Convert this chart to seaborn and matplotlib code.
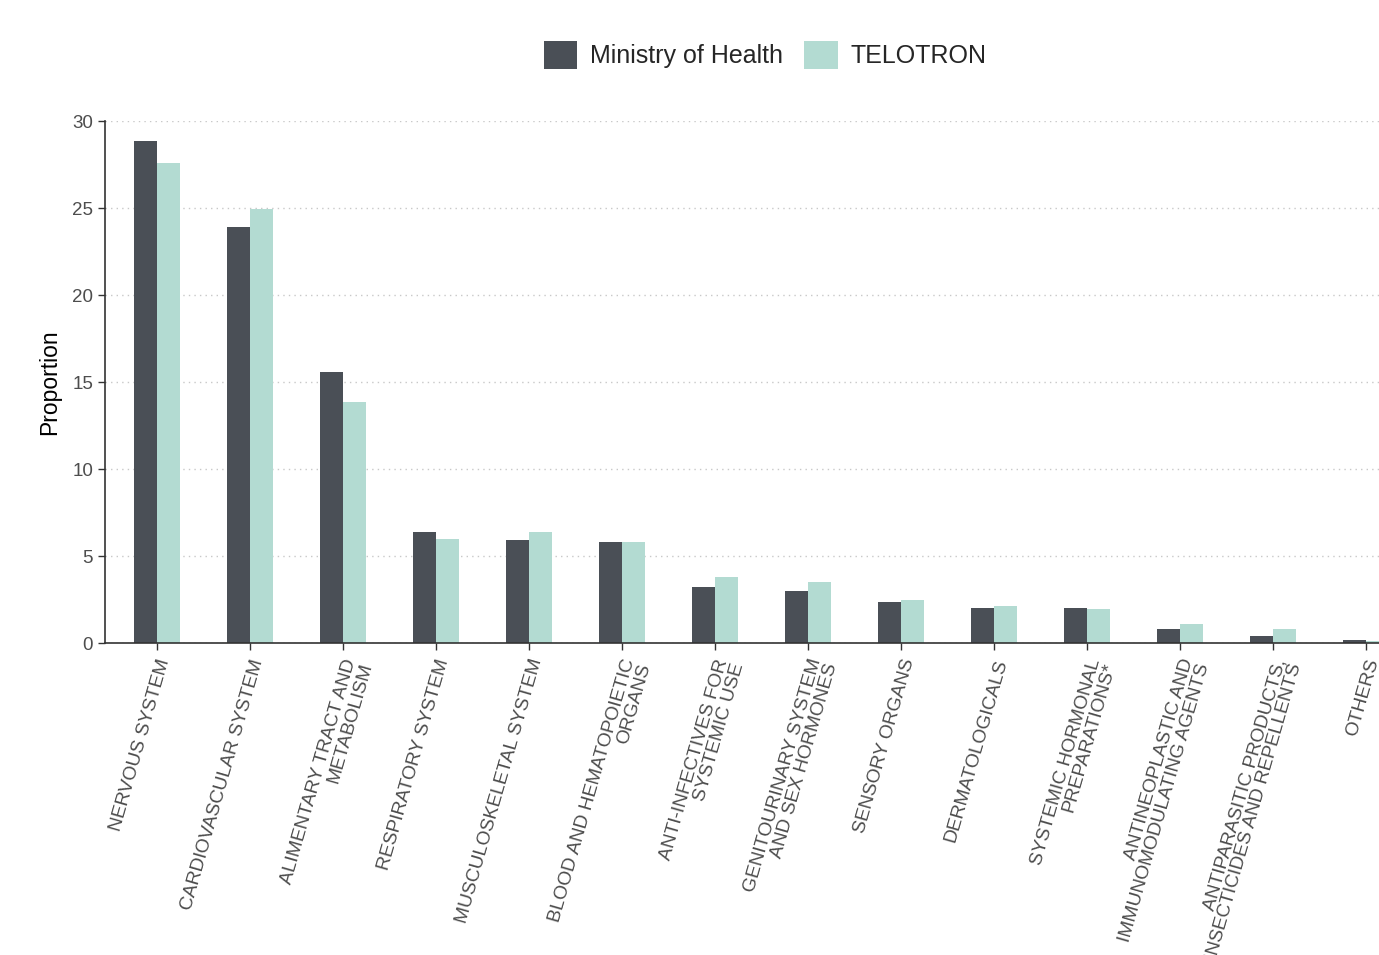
import matplotlib
matplotlib.use("Agg")
import matplotlib.pyplot as plt
import matplotlib.transforms as mtransforms
import seaborn as sns
import pandas as pd
from matplotlib.patches import Patch

categories = [
    "NERVOUS SYSTEM",
    "CARDIOVASCULAR SYSTEM",
    "ALIMENTARY TRACT AND\nMETABOLISM",
    "RESPIRATORY SYSTEM",
    "MUSCULOSKELETAL SYSTEM",
    "BLOOD AND HEMATOPOIETIC\nORGANS",
    "ANTI-INFECTIVES FOR\nSYSTEMIC USE",
    "GENITOURINARY SYSTEM\nAND SEX HORMONES",
    "SENSORY ORGANS",
    "DERMATOLOGICALS",
    "SYSTEMIC HORMONAL\nPREPARATIONS*",
    "ANTINEOPLASTIC AND\nIMMUNOMODULATING AGENTS",
    "ANTIPARASITIC PRODUCTS,\nINSECTICIDES AND REPELLENTS",
    "OTHERS",
]
ministry = [28.85, 23.9, 15.6, 6.4, 5.9, 5.8, 3.2, 3.0, 2.35, 2.0, 2.0, 0.79, 0.42, 0.15]
telotron = [27.6, 24.95, 13.85, 6.0, 6.4, 5.8, 3.8, 3.5, 2.45, 2.1, 1.93, 1.07, 0.79, 0.1]
series = ["Ministry of Health", "TELOTRON"]
colors = ["#4a4f56", "#b3dbd2"]
y_ticks = [0, 5, 10, 15, 20, 25, 30]

df = pd.DataFrame({
    "category": categories * 2,
    "value": ministry + telotron,
    "source": [series[0]] * len(categories) + [series[1]] * len(categories),
})

sns.set_style("white")
plt.rcParams["font.family"] = ["Liberation Sans", "DejaVu Sans"]

fig = plt.figure(figsize=(13.79, 9.55), dpi=100)
ax = fig.add_axes([105 / 1379, 1 - 643 / 955, 1313 / 1379, (643 - 121) / 955])

sns.barplot(data=df, x="category", y="value", hue="source", order=categories,
            hue_order=series, palette=colors, width=0.5, saturation=1,
            ax=ax, legend=False, errorbar=None, linewidth=0, edgecolor="none")

ax.set_ylim(0, 30)
ax.set_xlim(-0.56, len(categories) - 0.44)
ax.set_yticks(y_ticks)
ax.set_yticklabels([str(v) for v in y_ticks], fontsize=13.5, color="#4d4d4d")
ax.yaxis.grid(True, linestyle=(0, (1, 3)), color="#c8c8c8", linewidth=1)
ax.xaxis.grid(False)
ax.set_axisbelow(True)

ax.set_xticks(range(len(categories)))
ax.set_xticklabels(categories, rotation=74, ha="right", va="top",
                   rotation_mode="anchor", multialignment="right",
                   fontsize=13.8, color="#4d4d4d", linespacing=0.95)
offset = mtransforms.ScaledTranslation(5 / 100, 0, fig.dpi_scale_trans)
for lbl in ax.get_xticklabels():
    lbl.set_transform(lbl.get_transform() + offset)
ax.tick_params(axis="both", which="both", direction="out", length=5, width=1,
               color="#333333", bottom=True, left=True)
ax.tick_params(axis="x", pad=5)

for s in ["top", "right"]:
    ax.spines[s].set_visible(False)
for s in ["left", "bottom"]:
    ax.spines[s].set_color("#333333")
    ax.spines[s].set_linewidth(1.2)

ax.set_xlabel("")
ax.set_ylabel("Proportion", fontsize=16.5, color="black", labelpad=8)

handles = [Patch(facecolor=c, edgecolor="none") for c in colors]
fig.legend(handles, series, loc="center", bbox_to_anchor=(765 / 1379, 1 - 55 / 955),
           ncol=2, frameon=False, fontsize=18, handlelength=1.35, handleheight=1.35,
           handletextpad=0.5, columnspacing=0.85)

fig.savefig("out.png", dpi=100)
